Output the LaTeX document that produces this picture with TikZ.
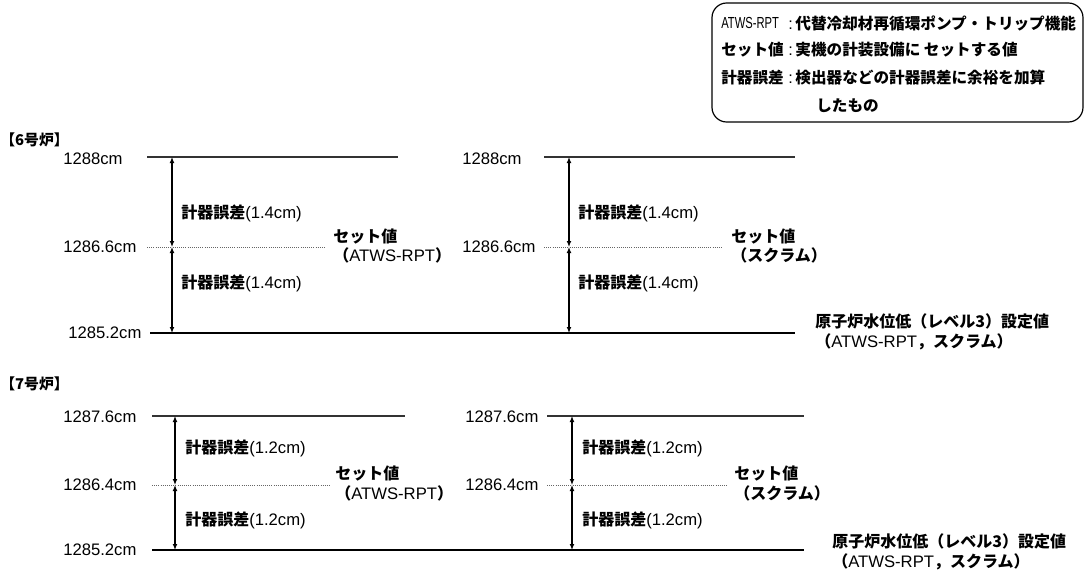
\documentclass[tikz,border=0pt]{standalone}
\usepackage{fontspec}
\setmainfont{Liberation Sans}
\newfontfamily\jpfont{Noto Sans CJK JP}[Scale=0.96]
\newfontfamily\narrowfont{Liberation Sans}[FakeStretch=0.7]
\usepackage{tikz}
\usetikzlibrary{%
  arrows.meta,
  positioning}
\newcommand{\jtx}[1]{{\jpfont\bfseries #1}}
\tikzset{
  %% Level lines
  topline/.style={draw=black!80, line width=0.85pt},
  lowline/.style={draw=black, line width=2.2pt},
  setline/.style={draw=black!60, line width=0.6pt, densely dotted},
  %% Error span arrows
  dimarrow/.style={{Latex[length=4.5pt,width=3.6pt]}-{Latex[length=4.5pt,width=3.6pt]},
    line width=0.8pt, black},
  %% Texts
  lvllabel/.style={anchor=west, inner sep=0pt, font=\fontsize{12.5}{15}\selectfont},
  errlabel/.style={anchor=west, inner sep=0pt, font=\fontsize{12.5}{15}\selectfont},
  setlabel/.style={anchor=west, inner sep=0pt, align=left,
    font=\fontsize{12.5}{14.6}\selectfont},
  ttllabel/.style={anchor=west, inner sep=0pt, font=\fontsize{11.6}{14}\selectfont},
  %% Legend
  legbox/.style={rectangle, rounded corners=11pt, draw=black, line width=0.9pt,
    minimum width=278.25pt, minimum height=89.25pt, inner sep=0pt},
  legtext/.style={anchor=west, inner sep=0pt, font=\fontsize{12.2}{14}\selectfont},
}
\begin{document}
\begin{tikzpicture}[x=0.75pt, y=-0.75pt]
  \useasboundingbox (0,0) rectangle (1086,571);

  %% Legend
  \node[legbox] (legend) at (897.5,62.5) {};
  \node[legtext] (legA1) at (721,23) {\fontsize{12}{14}\narrowfont ATWS-RPT};
  \node[legtext] (legA2) at (788,23) {:\kern2pt\jtx{代替冷却材再循環ポンプ・トリップ機能}};
  \node[legtext] (legB1) at (721,50) {\jtx{セット値}};
  \node[legtext] (legB2) at (788,50) {:\kern2pt\jtx{実機の計装設備に セットする値}};
  \node[legtext] (legC1) at (721,78) {\jtx{計器誤差}};
  \node[legtext] (legC2) at (788,78) {:\kern2pt\jtx{検出器などの計器誤差に余裕を加算}};
  \node[legtext] (legC3) at (816,106) {\jtx{したもの}};

  %% Unit 6
  \node[ttllabel] (t6) at (0,140) {\jtx{【6号炉】}};
  \coordinate (L6topA) at (147,157);  \coordinate (L6topB) at (398,157);
  \coordinate (L6setA) at (147,247);  \coordinate (L6setB) at (325,247);
  \coordinate (R6topA) at (544,157);  \coordinate (R6topB) at (795,157);
  \coordinate (R6setA) at (544,247);  \coordinate (R6setB) at (722,247);
  \coordinate (L6lowA) at (150,333);  \coordinate (R6lowB) at (795,333);
  \coordinate (L6arrT) at (172,157);  \coordinate (L6arrM) at (172,247);
  \coordinate (L6arrB) at (172,333);
  \coordinate (R6arrT) at (569,157);  \coordinate (R6arrM) at (569,247);
  \coordinate (R6arrB) at (569,333);

  \draw[topline] (L6topA) -- (L6topB);
  \draw[topline] (R6topA) -- (R6topB);
  \draw[setline] (L6setA) -- (L6setB);
  \draw[setline] (R6setA) -- (R6setB);
  \draw[lowline] (L6lowA) -- (R6lowB);
  \draw[dimarrow] (L6arrT) -- (L6arrM);
  \draw[dimarrow] (L6arrM) -- (L6arrB);
  \draw[dimarrow] (R6arrT) -- (R6arrM);
  \draw[dimarrow] (R6arrM) -- (R6arrB);

  \node[lvllabel] (L6v1) at (63,159) {1288cm};
  \node[lvllabel] (L6v2) at (63,247) {1286.6cm};
  \node[lvllabel] (L6v3) at (68,333) {1285.2cm};
  \node[lvllabel] (R6v1) at (462,159) {1288cm};
  \node[lvllabel] (R6v2) at (462,247) {1286.6cm};
  \node[errlabel] (L6e1) at (181,213) {\jtx{計器誤差}(1.4cm)};
  \node[errlabel] (L6e2) at (181,283) {\jtx{計器誤差}(1.4cm)};
  \node[errlabel] (R6e1) at (578,213) {\jtx{計器誤差}(1.4cm)};
  \node[errlabel] (R6e2) at (578,283) {\jtx{計器誤差}(1.4cm)};
  \node[setlabel] (L6set) at (333,246)
        {\jtx{セット値}\\\jtx{（}ATWS-RPT\jtx{）}};
  \node[setlabel] (R6set) at (731,246)
        {\jtx{セット値}\\\jtx{（スクラム）}};
  \node[setlabel] (R6low) at (815,332)
        {\jtx{原子炉水位低（レベル3）設定値}\\\jtx{（}ATWS-RPT\jtx{，スクラム）}};

  %% Unit 7
  \node[ttllabel] (t7) at (0,384) {\jtx{【7号炉】}};
  \coordinate (L7topA) at (152,416);  \coordinate (L7topB) at (405,416);
  \coordinate (L7setA) at (152,485);  \coordinate (L7setB) at (330,485);
  \coordinate (R7topA) at (547,416);  \coordinate (R7topB) at (804,416);
  \coordinate (R7setA) at (547,485);  \coordinate (R7setB) at (727,485);
  \coordinate (L7lowA) at (152,550);  \coordinate (R7lowB) at (804,550);
  \coordinate (L7arrT) at (175,416);  \coordinate (L7arrM) at (175,485);
  \coordinate (L7arrB) at (175,550);
  \coordinate (R7arrT) at (572,416);  \coordinate (R7arrM) at (572,485);
  \coordinate (R7arrB) at (572,550);

  \draw[topline] (L7topA) -- (L7topB);
  \draw[topline] (R7topA) -- (R7topB);
  \draw[setline] (L7setA) -- (L7setB);
  \draw[setline] (R7setA) -- (R7setB);
  \draw[lowline] (L7lowA) -- (R7lowB);
  \draw[dimarrow] (L7arrT) -- (L7arrM);
  \draw[dimarrow] (L7arrM) -- (L7arrB);
  \draw[dimarrow] (R7arrT) -- (R7arrM);
  \draw[dimarrow] (R7arrM) -- (R7arrB);

  \node[lvllabel] (L7v1) at (63,417) {1287.6cm};
  \node[lvllabel] (L7v2) at (63,485) {1286.4cm};
  \node[lvllabel] (L7v3) at (63,550) {1285.2cm};
  \node[lvllabel] (R7v1) at (465,417) {1287.6cm};
  \node[lvllabel] (R7v2) at (465,485) {1286.4cm};
  \node[errlabel] (L7e1) at (185,448) {\jtx{計器誤差}(1.2cm)};
  \node[errlabel] (L7e2) at (185,520) {\jtx{計器誤差}(1.2cm)};
  \node[errlabel] (R7e1) at (582,448) {\jtx{計器誤差}(1.2cm)};
  \node[errlabel] (R7e2) at (582,520) {\jtx{計器誤差}(1.2cm)};
  \node[setlabel] (L7set) at (335,483.5)
        {\jtx{セット値}\\\jtx{（}ATWS-RPT\jtx{）}};
  \node[setlabel] (R7set) at (734,483.5)
        {\jtx{セット値}\\\jtx{（スクラム）}};
  \node[setlabel] (R7low) at (832,552)
        {\jtx{原子炉水位低（レベル3）設定値}\\\jtx{（}ATWS-RPT\jtx{，スクラム）}};

\end{tikzpicture}
\end{document}
